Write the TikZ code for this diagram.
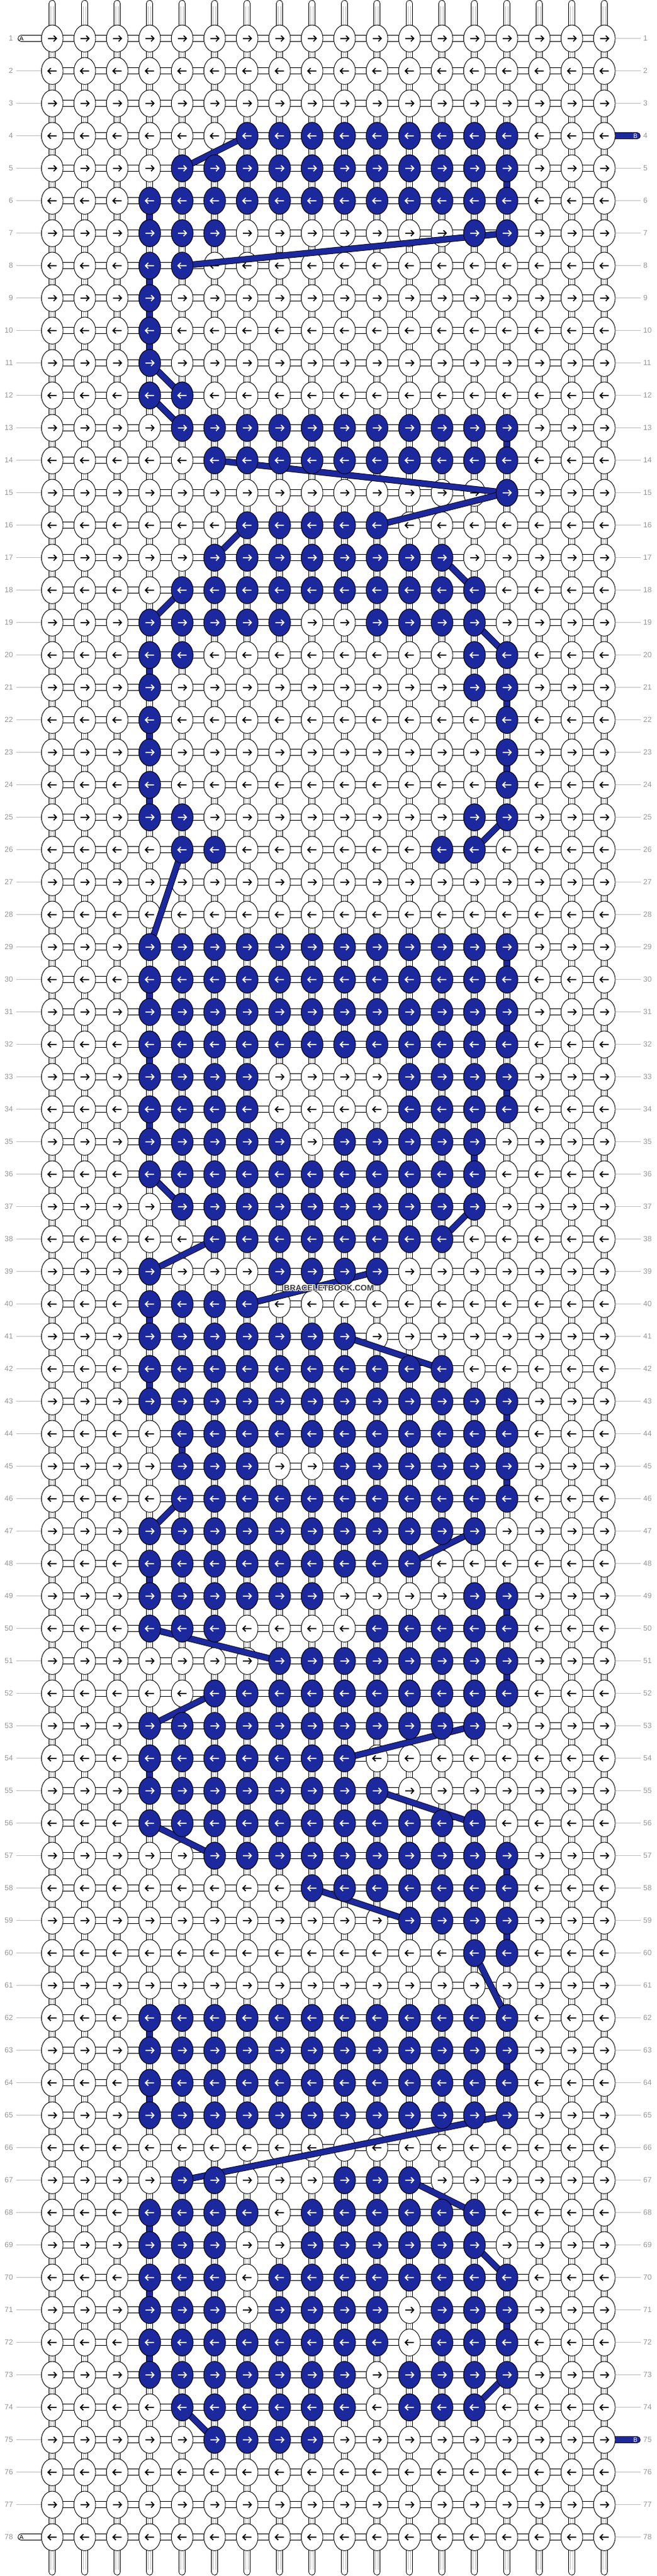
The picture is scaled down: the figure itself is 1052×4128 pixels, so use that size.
\documentclass[tikz,border=0pt]{standalone}
\usepackage{fontspec}
\setmainfont{Liberation Sans}
\usetikzlibrary{shapes.geometric}
\definecolor{bbblue}{RGB}{28,40,158}
\definecolor{lbl}{RGB}{150,150,150}
\definecolor{lblline}{RGB}{190,190,190}
\definecolor{strgray}{RGB}{190,190,190}
\definecolor{wmgray}{RGB}{60,60,60}
\begin{document}
\begin{tikzpicture}[x=1pt,y=-1pt,
  knot/.style={ellipse, draw=black, line width=0.9pt, minimum width=34.7pt, minimum height=43.3pt, inner sep=0pt, fill=white},
  knotb/.style={knot, fill=bbblue},
  vstring/.style={draw=black, line width=0.9pt, double=white, double distance=8.9pt, line cap=round},
  vinner/.style={draw=strgray, line width=0.8pt, double=white, double distance=3pt, shorten <=4pt, shorten >=4pt},
  hstring/.style={draw=black, line width=0.9pt, double=white, double distance=8.9pt},
  vblue/.style={draw=black, line width=0.9pt, double=bbblue, double distance=8.9pt},
  band/.style={draw=black, line width=0.9pt, double=bbblue, double distance=8.5pt},
  bstub/.style={draw=black, line width=0.9pt, double=bbblue, double distance=8.9pt, line cap=round},
  astub/.style={hstring, line cap=round},
  arrowk/.style={draw=black, line width=1.7pt, line join=miter},
  arrowb/.style={arrowk, draw=white},
  lblline/.style={draw=lblline, line width=0.9pt},
  lblL/.style={anchor=east, inner sep=0pt, text=lbl, font=\fontsize{12}{14}\selectfont},
  lblR/.style={anchor=west, inner sep=0pt, text=lbl, font=\fontsize{12}{14}\selectfont},
  stubtext/.style={inner sep=0pt, font=\fontsize{10}{12}\selectfont},
  wmark/.style={inner sep=0pt, font=\bfseries\fontsize{13}{15}\selectfont}
]
\useasboundingbox (0,0) rectangle (1052,4128);
\fill[white] (0,0) rectangle (1052,4128);

% grid coordinates
\foreach \r in {1,...,78}{
  \foreach \c in {1,...,18}{
    \coordinate (p-\r-\c) at ({83.7+52*(\c-1)},{61.7+52*(\r-1)});
  }
}
\foreach \c in {1,...,18}{
  \coordinate (top-\c) at ({83.7+52*(\c-1)},5.5);
  \coordinate (bot-\c) at ({83.7+52*(\c-1)},4121.5);
}

% vertical strings
\foreach \c in {1,...,18}{
  \draw[vstring] (top-\c) -- (bot-\c);
  \draw[vinner] (top-\c) -- (bot-\c);
}

% horizontal strings, side lines and row numbers
\foreach \r in {1,...,78}{
  \pgfmathsetmacro\yy{61.7+52*(\r-1)}
  \draw[hstring] (p-\r-1) -- (p-\r-18);
  \coordinate (ll-\r) at (26,\yy);
  \coordinate (rl-\r) at (1025.7,\yy);
  \ifnum\r=1 \else\ifnum\r=78 \else \draw[lblline] (ll-\r) -- (p-\r-1);\fi\fi
  \ifnum\r=4 \else\ifnum\r=75 \else \draw[lblline] (p-\r-18) -- (rl-\r);\fi\fi
  \node[lblL] (nl-\r) at (21,\yy) {\r};
  \node[lblR] (nr-\r) at (1030,\yy) {\r};
}

% A and B stubs
\coordinate (as-1) at (33.7,61.7);
\coordinate (as-78) at (33.7,4065.7);
\coordinate (bs-4) at (1020.3,217.7);
\coordinate (bs-75) at (1020.3,3909.7);
\draw[astub] (as-1) -- (p-1-1);
\draw[astub] (as-78) -- (p-78-1);
\draw[bstub] (p-4-18) -- (bs-4);
\draw[bstub] (p-75-18) -- (bs-75);
\node[stubtext] (at-1) at (34.5,61.7) {A};
\node[stubtext] (at-78) at (34.5,4065.7) {A};
\node[stubtext, text=white] (bt-4) at (1017.5,217.7) {B};
\node[stubtext, text=white] (bt-75) at (1017.5,3909.7) {B};

% blue vertical carries
\foreach \r/\c in {5/15, 6/4, 8/4, 9/4, 10/4, 13/15, 20/4, 21/15, 22/4, 23/15, 24/4, 29/15, 30/4, 31/15, 32/4, 33/15, 34/4, 35/14, 40/4, 42/4, 43/15, 44/5, 45/15, 48/4, 49/15, 51/15, 54/4, 57/15, 59/15, 62/4, 63/15, 64/4, 68/4, 70/4, 71/15, 72/4}{
  \pgfmathtruncatemacro\rr{\r+1}
  \draw[vblue] (p-\r-\c) -- (p-\rr-\c);
}

% white knots
\foreach \r in {1,...,78}{
  \pgfmathtruncatemacro\d{2*isodd(\r)-1}
  \foreach \c in {1,...,18}{
    \node[knot] (k-\r-\c) at (p-\r-\c) {};
    \draw[arrowk, shift={(p-\r-\c)}, xscale=\d] (-6.8,0) -- (6.3,0) (2.3,-4.6) -- (6.8,0) -- (2.3,4.6);
  }
}

% blue carries between rows
\foreach \ra/\ca/\rb/\cb in {4/7/5/5, 7/15/8/5, 11/4/12/5, 12/4/13/5, 14/6/15/15, 15/15/16/11, 16/7/17/6, 17/13/18/14, 18/5/19/4, 19/14/20/15, 25/15/26/14, 26/5/29/4, 36/4/37/5, 37/14/38/13, 38/6/39/4, 39/11/40/7, 41/10/42/13, 46/5/47/4, 47/14/48/12, 50/4/51/8, 52/6/53/4, 53/14/54/10, 55/11/56/14, 56/4/57/6, 58/9/59/12, 60/14/62/15, 65/15/67/5, 67/12/68/14, 69/14/70/15, 73/15/74/14, 74/5/75/6}{
  \draw[band] (p-\ra-\ca) -- (p-\rb-\cb);
}

% blue knots
\foreach \r/\a/\b in {4/7/15, 5/5/15, 6/4/15, 7/4/6, 7/14/15, 8/4/5, 9/4/4, 10/4/4, 11/4/4, 12/4/5, 13/5/15, 14/6/15, 15/15/15, 16/7/11, 17/6/13, 18/5/14, 19/4/8, 19/11/14, 20/4/5, 20/14/15, 21/4/4, 21/14/15, 22/4/4, 22/15/15, 23/4/4, 23/15/15, 24/4/4, 24/15/15, 25/4/5, 25/14/15, 26/5/6, 26/13/14, 29/4/15, 30/4/15, 31/4/15, 32/4/15, 33/4/7, 33/12/15, 34/4/7, 34/12/15, 35/4/8, 35/10/14, 36/4/14, 37/5/14, 38/6/13, 39/4/4, 39/8/11, 40/4/7, 41/4/10, 42/4/13, 43/4/15, 44/5/15, 45/5/7, 45/10/15, 46/5/15, 47/4/14, 48/4/12, 49/4/9, 49/14/15, 50/4/6, 50/11/15, 51/8/15, 52/6/15, 53/4/14, 54/4/10, 55/4/11, 56/4/14, 57/6/15, 58/9/15, 59/12/15, 60/14/15, 62/4/15, 63/4/15, 64/4/15, 65/4/15, 67/5/6, 67/10/12, 68/4/7, 68/9/14, 69/4/6, 69/9/14, 70/4/6, 70/8/15, 71/4/6, 71/8/11, 71/13/15, 72/4/11, 72/13/15, 73/4/10, 73/12/15, 74/5/10, 74/12/14, 75/6/9}{
  \pgfmathtruncatemacro\d{2*isodd(\r)-1}
  \foreach \c in {\a,...,\b}{
    \node[knotb] (b-\r-\c) at (p-\r-\c) {};
    \draw[arrowb, shift={(p-\r-\c)}, xscale=\d] (-6.8,0) -- (6.3,0) (2.3,-4.6) -- (6.8,0) -- (2.3,4.6);
  }
}

% watermark
\foreach \i/\dx/\dy in {1/-1.2/0, 2/1.2/0, 3/0/-1.2, 4/0/1.2, 5/-0.9/-0.9, 6/0.9/-0.9, 7/-0.9/0.9, 8/0.9/0.9}{
  \node[wmark, text=white] (halo-\i) at (526.5+\dx,2063.7+\dy) {BRACELETBOOK.COM};
}
\node[wmark, text=wmgray] (wm) at (526.5,2063.7) {BRACELETBOOK.COM};
\end{tikzpicture}
\end{document}
